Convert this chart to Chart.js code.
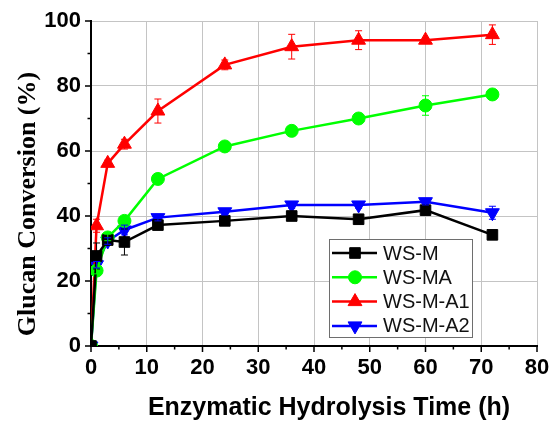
<!DOCTYPE html>
<html>
<head>
<meta charset="utf-8">
<script src="https://cdn.jsdelivr.net/npm/chart.js@4/dist/chart.umd.min.js"></script>
<style>
  html, body { margin: 0; padding: 0; background: #fff; }
  #wrap { width: 552px; height: 421px; }
</style>
</head>
<body>
<div id="wrap"><canvas id="chart"></canvas></div>
<script>
// hydrolysis time (h)
const times = [0, 1, 3, 6, 12, 24, 36, 48, 60, 72];

// glucan conversion (%)
const wsM   = [0, 27.7, 32.6, 32.0, 37.2, 38.5, 40.0, 39.0, 41.8, 34.2];
const wsMA  = [0, 23.2, 33.4, 38.5, 51.4, 61.4, 66.2, 70.0, 74.0, 77.4];
const wsMA1 = [0, 37.0, 56.2, 62.1, 72.3, 86.5, 92.1, 94.1, 94.1, 95.8];
const wsMA2 = [0, 25.0, 32.3, 35.7, 39.5, 41.3, 43.4, 43.4, 44.4, 41.0];

// error bar half widths
const errM   = [0, 4.0, 0.8, 4.0, 0.8, 0.8, 1.0, 1.0, 1.2, 0.8];
const errMA  = [0, 1.0, 1.0, 1.0, 1.0, 1.0, 1.0, 1.0, 3.0, 1.5];
const errMA1 = [0, 2.0, 1.0, 1.5, 3.7, 1.5, 3.8, 2.9, 0.8, 3.0];
const errMA2 = [0, 1.0, 1.0, 1.5, 1.0, 1.0, 1.0, 1.0, 1.0, 2.0];

const xTicks = [0, 10, 20, 30, 40, 50, 60, 70, 80];
const yTicks = [0, 20, 40, 60, 80, 100];

const seriesNames = ['WS-M', 'WS-MA', 'WS-M-A1', 'WS-M-A2'];
const seriesColors = ['#000000', '#00ff00', '#ff0000', '#0000ff'];
const xTitle = 'Enzymatic Hydrolysis Time (h)';
const yTitle = 'Glucan Conversion (%)';

function pts(vals) {
  return times.map((t, i) => ({ x: t, y: vals[i] }));
}

const errs = [errM, errMA, errMA1, errMA2];
const gridGray = '#c4c4c4';

const errorBars = {
  id: 'errorBars',
  afterDatasetsDraw(chart) {
    const { ctx, scales } = chart;
    ctx.save();
    ctx.lineWidth = 1;
    chart.data.datasets.forEach((ds, di) => {
      ctx.strokeStyle = ds.borderColor;
      ds.data.forEach((p, i) => {
        const e = errs[di][i];
        if (!e) return;
        const x = scales.x.getPixelForValue(p.x);
        const y1 = scales.y.getPixelForValue(p.y + e);
        const y2 = scales.y.getPixelForValue(p.y - e);
        ctx.beginPath();
        ctx.moveTo(x, y1); ctx.lineTo(x, y2);
        ctx.moveTo(x - 3.5, y1); ctx.lineTo(x + 3.5, y1);
        ctx.moveTo(x - 3.5, y2); ctx.lineTo(x + 3.5, y2);
        ctx.stroke();
      });
    });
    ctx.restore();
  }
};

// major and minor tick marks on the outside of the axes
const tickMarks = {
  id: 'tickMarks',
  afterDraw(chart) {
    const { ctx, scales, chartArea } = chart;
    ctx.save();
    ctx.strokeStyle = '#000';
    ctx.lineWidth = 1.5;
    ctx.beginPath();
    for (let v = 0; v <= 80; v += 5) {
      const x = scales.x.getPixelForValue(v);
      const len = v % 10 === 0 ? 6 : 3.5;
      ctx.moveTo(x, chartArea.bottom);
      ctx.lineTo(x, chartArea.bottom + len);
    }
    for (let v = 0; v <= 100; v += 10) {
      const y = scales.y.getPixelForValue(v);
      const len = v % 20 === 0 ? 6 : 3.5;
      ctx.moveTo(chartArea.left, y);
      ctx.lineTo(chartArea.left - len, y);
    }
    ctx.stroke();
    ctx.restore();
  }
};

// axis titles, placed off-centre like the original figure
const axisTitles = {
  id: 'axisTitles',
  afterDraw(chart) {
    const { ctx } = chart;
    ctx.save();
    ctx.fillStyle = '#000';
    ctx.textAlign = 'center';
    ctx.textBaseline = 'alphabetic';
    ctx.font = 'bold 25px "Liberation Sans", Arial, sans-serif';
    ctx.fillText(xTitle, 329, 415);
    ctx.translate(35, 204);
    ctx.rotate(-Math.PI / 2);
    ctx.font = 'bold 26px "Liberation Serif", "Times New Roman", serif';
    ctx.fillText(yTitle, 0, 0);
    ctx.restore();
  }
};

const boxLegend = {
  id: 'boxLegend',
  afterDraw(chart) {
    const { ctx } = chart;
    const left = 329, top = 239, w = 143, h = 98;
    ctx.save();
    ctx.fillStyle = '#fff';
    ctx.fillRect(left, top, w, h);
    ctx.strokeStyle = '#6e6e6e';
    ctx.lineWidth = 1;
    ctx.strokeRect(left + 0.5, top + 0.5, w, h);
    ctx.font = '20px "Liberation Sans", Arial, sans-serif';
    ctx.textBaseline = 'middle';
    chart.data.datasets.forEach((ds, i) => {
      const y = top + 14 + i * 24.3;
      ctx.strokeStyle = ds.borderColor;
      ctx.lineWidth = 2.5;
      ctx.beginPath();
      ctx.moveTo(left + 3, y);
      ctx.lineTo(left + 48, y);
      ctx.stroke();
      ctx.fillStyle = ds.borderColor;
      ctx.lineWidth = 1;
      Chart.helpers.drawPoint(ctx, {
        pointStyle: ds.pointStyle,
        rotation: ds.pointRotation || 0,
        radius: ds.pointRadius,
        borderWidth: 1
      }, left + 26, y);
      ctx.fillStyle = '#111';
      ctx.fillText(ds.label, left + 54, y + 1);
    });
    ctx.restore();
  }
};

const styles = [
  { pointStyle: 'rect', pointRadius: 7.5 },
  { pointStyle: 'circle', pointRadius: 6.5 },
  { pointStyle: 'triangle', pointRadius: 8 },
  { pointStyle: 'triangle', pointRadius: 8, pointRotation: 180 }
];
const allVals = [wsM, wsMA, wsMA1, wsMA2];

new Chart(document.getElementById('chart'), {
  type: 'line',
  data: {
    datasets: allVals.map((vals, i) => ({
      label: seriesNames[i],
      data: pts(vals),
      borderColor: seriesColors[i],
      backgroundColor: seriesColors[i],
      pointBackgroundColor: seriesColors[i],
      pointBorderColor: seriesColors[i],
      borderWidth: 2.5,
      pointBorderWidth: 1,
      tension: 0,
      pointStyle: styles[i].pointStyle,
      pointRadius: styles[i].pointRadius,
      pointRotation: styles[i].pointRotation || 0
    }))
  },
  options: {
    responsive: true,
    maintainAspectRatio: false,
    animation: false,
    layout: { padding: { top: 21, right: 15, left: 0, bottom: 0 } },
    plugins: {
      legend: { display: false },
      tooltip: { enabled: false }
    },
    scales: {
      x: {
        type: 'linear',
        min: 0,
        max: 80,
        afterBuildTicks: (s) => { s.ticks = xTicks.map(v => ({ value: v })); },
        afterFit: (s) => { s.height = 75; s.paddingRight = 0; s.paddingLeft = 0; },
        ticks: {
          color: '#000',
          padding: 9,
          maxRotation: 0,
          font: { family: '"Liberation Sans", Arial, sans-serif', size: 22, weight: 'bold' }
        },
        grid: {
          drawTicks: false,
          color: (c) => (c.tick && c.tick.value === 0 ? 'rgba(0,0,0,0)' : gridGray),
          lineWidth: 1
        },
        border: { display: true, color: '#000', width: 2 },
        title: { display: false }
      },
      y: {
        type: 'linear',
        min: 0,
        max: 100,
        afterBuildTicks: (s) => { s.ticks = yTicks.map(v => ({ value: v })); },
        afterFit: (s) => { s.width = 91; s.paddingTop = 0; s.paddingBottom = 0; },
        ticks: {
          color: '#000',
          padding: 10,
          font: { family: '"Liberation Sans", Arial, sans-serif', size: 22, weight: 'bold' }
        },
        grid: {
          drawTicks: false,
          color: (c) => (c.tick && c.tick.value === 0 ? 'rgba(0,0,0,0)' : gridGray),
          lineWidth: 1
        },
        border: { display: true, color: '#000', width: 2 },
        title: { display: false }
      }
    }
  },
  plugins: [errorBars, tickMarks, axisTitles, boxLegend]
});
</script>
</body>
</html>
